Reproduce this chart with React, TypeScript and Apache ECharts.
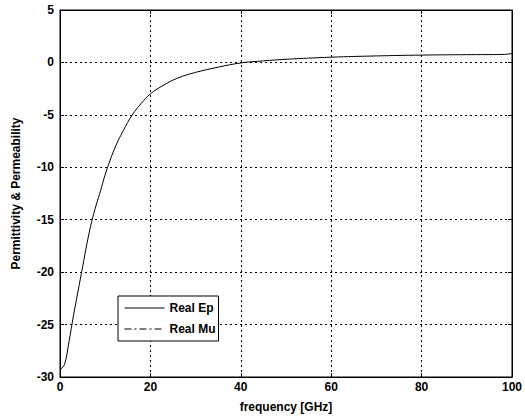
import React, { useEffect, useRef } from "react";
import * as echarts from "echarts";

const freq = [0, 1, 2, 3, 4, 5, 6, 7, 8, 9, 10, 12, 14, 16, 18, 20, 23, 26, 30, 35, 40, 45, 50, 60, 70, 80, 90, 98, 100];
const realEp = [-29.3, -28.8, -26.6, -24.1, -21.8, -19.5, -17.2, -15.2, -13.6, -12.2, -10.7, -8.3, -6.5, -5.0, -3.9, -3.0, -2.15, -1.5, -0.95, -0.45, -0.05, 0.15, 0.3, 0.5, 0.62, 0.7, 0.74, 0.76, 0.85];
const realMu: number[][] = [];
const xTicks = [0, 20, 40, 60, 80, 100];
const yTicks = [5, 0, -5, -10, -15, -20, -25, -30];

const FONT = "'Liberation Sans', Arial, sans-serif";

export default function App() {
  const ref = useRef<HTMLDivElement>(null);
  useEffect(() => {
    if (!ref.current) return;
    const chart = echarts.init(ref.current, null, { renderer: "svg" });
    const epData = freq.map((f, i) => [f, realEp[i]]);
    const gridLine = { show: true, lineStyle: { color: "#000", type: [2, 3] as any, width: 1 } };
    const label = { color: "#000", fontFamily: FONT, fontWeight: "bold" as const, fontSize: 12 };
    chart.setOption({
      animation: false,
      backgroundColor: "#fff",
      grid: { left: 60, top: 10, right: 12, bottom: 43, show: true, borderColor: "#000", borderWidth: 1 },
      legend: {
        left: 118,
        top: 296,
        orient: "vertical",
        backgroundColor: "#fff",
        borderColor: "#000",
        borderWidth: 1,
        borderRadius: 0,
        padding: [6, 3, 6, 6],
        itemGap: 9,
        itemWidth: 40,
        itemHeight: 14,
        itemStyle: { opacity: 0 },
        lineStyle: { width: 1 },
        textStyle: { ...label, fontSize: 12 },
        data: ["Real Ep", "Real Mu"],
      },
      xAxis: [
        {
          type: "value",
          min: 0,
          max: 100,
          interval: 20,
          name: "frequency [GHz]",
          nameLocation: "middle",
          nameGap: 24,
          nameTextStyle: label,
          axisLine: { show: true, onZero: false, lineStyle: { color: "#000" } },
          axisTick: { show: true, inside: true, length: 4, lineStyle: { color: "#000" } },
          axisLabel: { ...label, margin: 4, formatter: (v: number) => (xTicks.includes(v) ? String(v) : "") },
          splitLine: gridLine,
        },
        {
          type: "value",
          position: "top",
          min: 0,
          max: 100,
          interval: 20,
          axisLine: { show: true, onZero: false, lineStyle: { color: "#000" } },
          axisTick: { show: true, inside: true, length: 4, lineStyle: { color: "#000" } },
          axisLabel: { show: false },
          splitLine: { show: false },
        },
      ],
      yAxis: [
        {
          type: "value",
          min: -30,
          max: 5,
          interval: 5,
          name: "Permittivity & Permeability",
          nameLocation: "middle",
          nameGap: 38,
          nameTextStyle: label,
          axisLine: { show: true, onZero: false, lineStyle: { color: "#000" } },
          axisTick: { show: true, inside: true, length: 4, lineStyle: { color: "#000" } },
          axisLabel: { ...label, margin: 6, formatter: (v: number) => (yTicks.includes(v) ? String(v) : "") },
          splitLine: gridLine,
        },
        {
          type: "value",
          position: "right",
          min: -30,
          max: 5,
          interval: 5,
          axisLine: { show: true, onZero: false, lineStyle: { color: "#000" } },
          axisTick: { show: true, inside: true, length: 4, lineStyle: { color: "#000" } },
          axisLabel: { show: false },
          splitLine: { show: false },
        },
      ],
      series: [
        {
          name: "Real Ep",
          type: "line",
          data: epData,
          smooth: 0.4,
          showSymbol: false,
          symbol: "none",
          lineStyle: { color: "#000", width: 1 },
          itemStyle: { color: "#000" },
        },
        {
          name: "Real Mu",
          type: "line",
          data: realMu,
          showSymbol: false,
          symbol: "none",
          lineStyle: { color: "#000", width: 1, type: [7, 3, 2, 3] as any },
          itemStyle: { color: "#000" },
        },
      ],
    });
    return () => chart.dispose();
  }, []);
  return <div ref={ref} style={{ width: 525, height: 420, position: "absolute", left: 0, top: 0 }} />;
}
